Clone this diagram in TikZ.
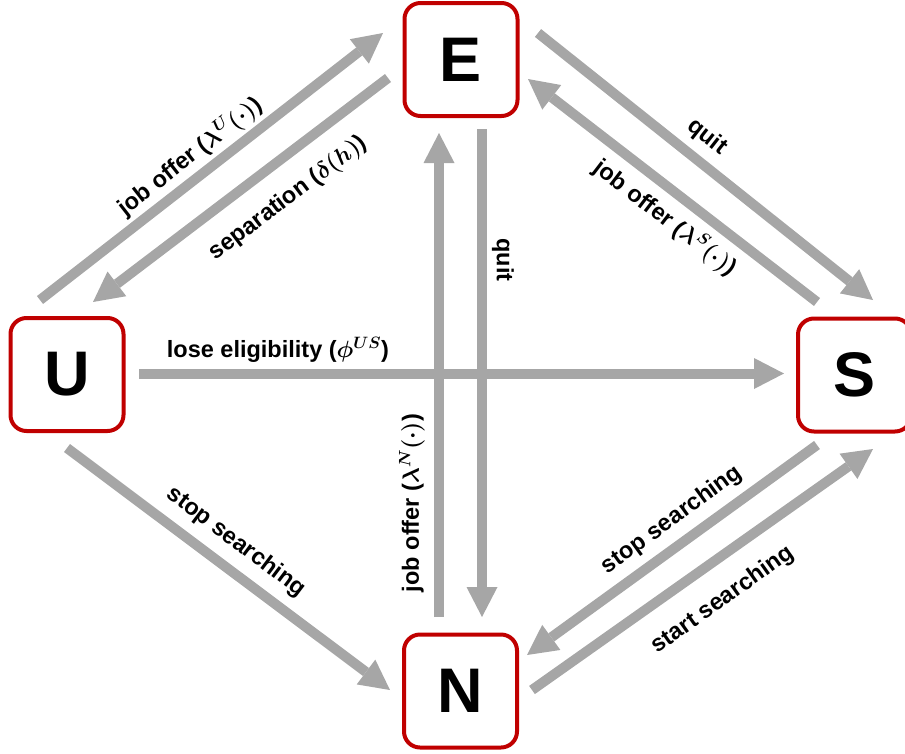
\documentclass[tikz,border=0pt]{standalone}
\usepackage{fix-cm}
\usepackage{fontspec}
\setmainfont{Liberation Sans}
\usetikzlibrary{arrows.meta}
\definecolor{arrgray}{HTML}{A6A6A6}
\definecolor{boxred}{HTML}{C00000}
\begin{document}
\begin{tikzpicture}[x=1pt,y=-1pt,
  state/.style={draw=boxred, line width=4pt, rounded corners=16pt,
    minimum width=113pt, minimum height=113pt, inner sep=0pt, fill=white,
    font=\fontsize{63}{70}\selectfont\bfseries},
  arr/.style={draw=arrgray, line width=10pt,
    -{Triangle[width=31pt,length=30pt,line width=0pt]}},
  lab/.style={font=\fontsize{23.5}{28}\selectfont\bfseries\boldmath, inner sep=0pt}]
\useasboundingbox (0,0) rectangle (905,753);

% states
\node[state] (E) at (461,59.5) {E};
\node[state] (U) at (67,374.5) {U};
\node[state] (S) at (854.5,375) {S};
\node[state] (N) at (460.5,691) {N};

% arrow end points
\coordinate (ue1) at (40,300);   \coordinate (ue2) at (383,33);
\coordinate (eu1) at (388,78);   \coordinate (eu2) at (93,302);
\coordinate (es1) at (538,33);   \coordinate (es2) at (873,300);
\coordinate (se1) at (817,302);  \coordinate (se2) at (528,79);
\coordinate (ne1) at (439,617);  \coordinate (ne2) at (439,133);
\coordinate (en1) at (482,129);  \coordinate (en2) at (482,617);
\coordinate (us1) at (139,373.5);\coordinate (us2) at (784,373.5);
\coordinate (un1) at (67,448);   \coordinate (un2) at (390,690);
\coordinate (sn1) at (817,445);  \coordinate (sn2) at (527,655);
\coordinate (ns1) at (532,690);  \coordinate (ns2) at (873,449);

% connectors
\draw[arr] (ne1) -- (ne2);
\draw[arr] (en1) -- (en2);
\draw[arr] (us1) -- (us2);
\draw[arr] (ue1) -- (ue2);
\draw[arr] (eu1) -- (eu2);
\draw[arr] (es1) -- (es2);
\draw[arr] (se1) -- (se2);
\draw[arr] (un1) -- (un2);
\draw[arr] (sn1) -- (sn2);
\draw[arr] (ns1) -- (ns2);

% labels
\node[lab, rotate=38] (lue) at (190,156.5) {job offer ($\lambda^{U}(\cdot)$)};
\node[lab, rotate=37] (leu) at (288.5,198.5) {separation ($\delta(h)$)};
\node[lab, rotate=-38] (les) at (707,137) {quit};
\node[lab, rotate=-37.5] (lse) at (665,218) {job offer ($\lambda^{S}(\cdot)$)};
\node[lab, rotate=-90] (len) at (503,260) {quit};
\node[lab, rotate=90] (lne) at (412,503) {job offer ($\lambda^{N}(\cdot)$)};
\node[lab, anchor=base] (lus) at (278,357) {lose eligibility ($\phi^{US}$)};
\node[lab, rotate=-37] (lun) at (236,542) {stop searching};
\node[lab, rotate=36] (lsn) at (672,520) {stop searching};
\node[lab, rotate=35.5] (lns) at (723,600) {start searching};
\end{tikzpicture}
\end{document}
